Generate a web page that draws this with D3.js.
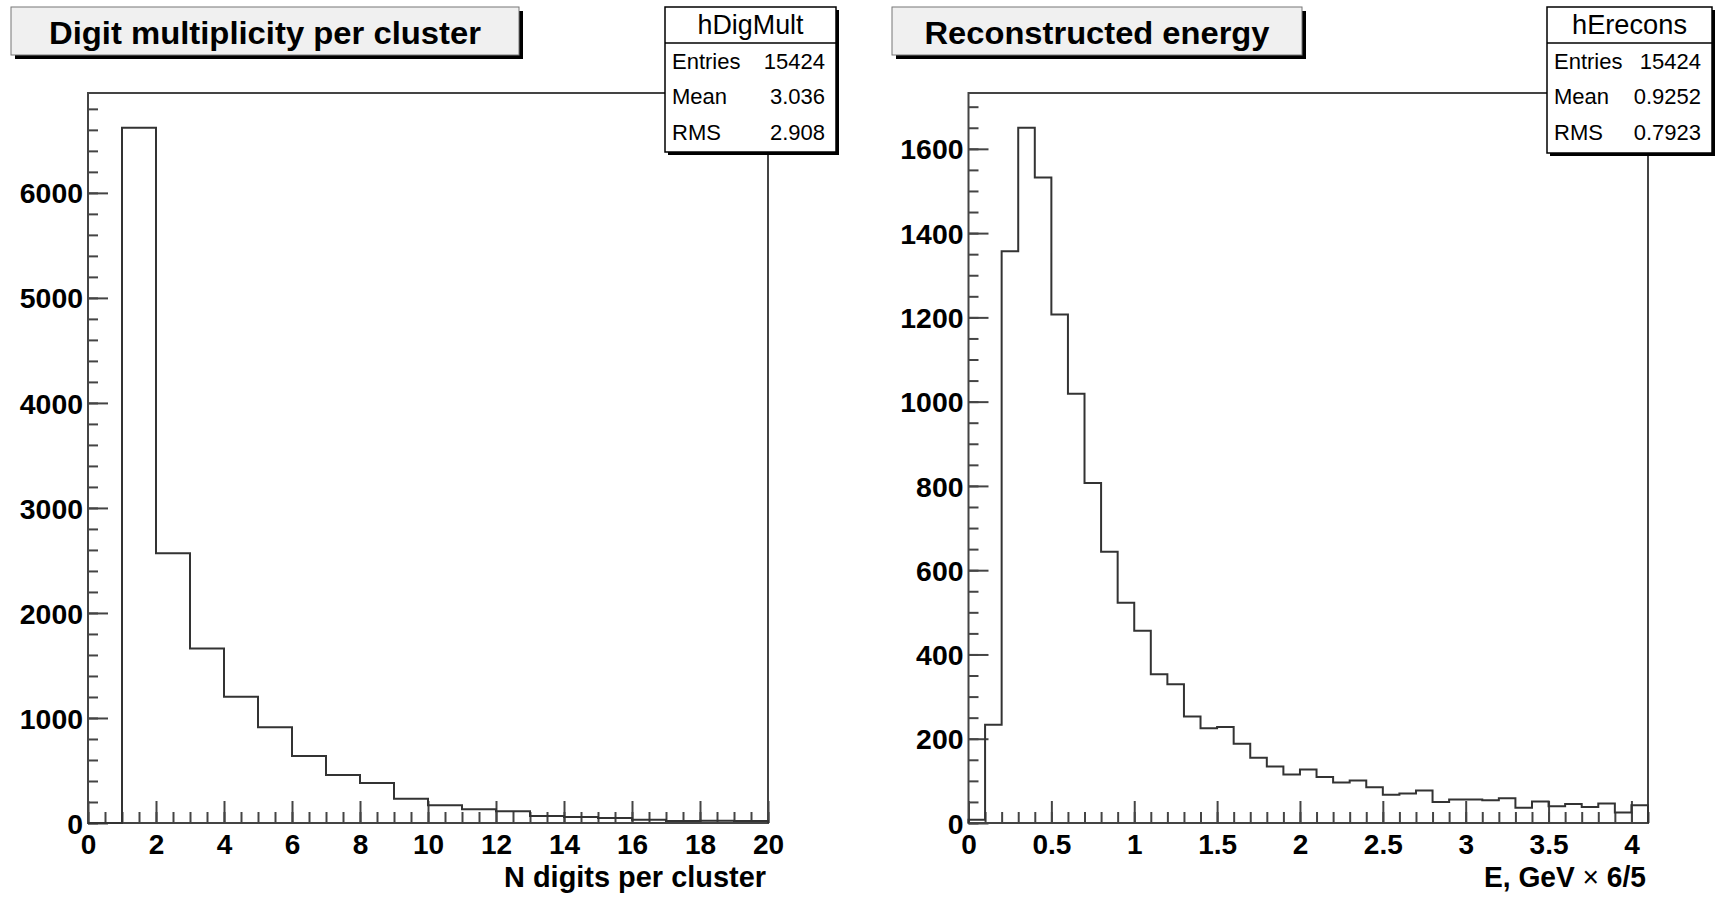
<!DOCTYPE html>
<meta charset="utf-8">
<title>Digit multiplicity / Reconstructed energy</title>
<style>
  body { margin: 0; background: #fff; }
  svg { display: block; font-family: "Liberation Sans", Arial, Helvetica, sans-serif; }
  .tick line { stroke: #444; stroke-width: 2; }
  .tick text { font-size: 28px; font-weight: bold; fill: #000; }
</style>
<body>
<script src="https://d3js.org/d3.v7.min.js"></script>
<script>

// ---- data ----
// hDigMult: 20 bins of width 1 on [0, 20]
var multLow = 0, multHigh = 20;
var multCounts = [0, 6620, 2568, 1662, 1201, 912, 639, 457, 381, 232,
                  169, 130, 111, 67, 57, 48, 32, 20, 22, 18];
var multStats = [["Entries", "15424"], ["Mean", "3.036"], ["RMS", "2.908"]];

// hErecons: 41 bins of width 0.1 on [0, 4.1]
var enLow = 0, enHigh = 4.1;
var enCounts = [8, 233, 1357, 1650, 1532, 1207, 1019, 807, 644, 523,
                456, 353, 329, 253, 225, 228, 188, 155, 134, 115,
                127, 109, 96, 101, 85, 67, 70, 77, 50, 56,
                56, 54, 59, 36, 51, 40, 45, 38, 46, 25, 42];
var enStats = [["Entries", "15424"], ["Mean", "0.9252"], ["RMS", "0.7923"]];

var multXTicks = d3.range(0, 21, 2);
var multXMinor = d3.range(0, 41).map(function (i) { return i / 2; });
var multYTicks = d3.range(0, 7000, 1000);
var multYMinor = d3.range(0, 7000, 200);

var enXTicks = d3.range(0, 9).map(function (i) { return i / 2; });
var enXMinor = d3.range(0, 42).map(function (i) { return i / 10; });
var enYTicks = d3.range(0, 1800, 200);
var enYMinor = d3.range(0, 1750, 50);

var width = 1719, height = 899;

var svg = d3.select("body").append("svg")
    .attr("width", width)
    .attr("height", height);

function drawPanel(p) {
  var g = svg.append("g");

  var x = d3.scaleLinear().domain([p.low, p.high]).range([p.left, p.right]);
  var y = d3.scaleLinear().domain([0, d3.max(p.counts) * 1.05]).range([p.bottom, p.top]);
  var bw = (p.high - p.low) / p.counts.length;

  // frame
  g.append("rect")
    .attr("x", p.left).attr("y", p.top)
    .attr("width", p.right - p.left).attr("height", p.bottom - p.top)
    .attr("fill", "none").attr("stroke", "#444").attr("stroke-width", 2);

  // minor ticks then major ticks, pointing inwards
  g.append("g")
    .attr("transform", "translate(0," + p.bottom + ")")
    .call(d3.axisBottom(x).tickValues(p.xMinor).tickSize(-11).tickFormat(""))
    .call(function (a) { a.select(".domain").remove(); });
  g.append("g")
    .attr("transform", "translate(0," + p.bottom + ")")
    .call(d3.axisBottom(x).tickValues(p.xTicks).tickSize(-22).tickPadding(11)
      .tickFormat(function (d) { return String(+d.toFixed(1)); }))
    .call(function (a) { a.select(".domain").remove(); })
    .selectAll("text").attr("font-size", 29);

  g.append("g")
    .attr("transform", "translate(" + p.left + ",0)")
    .call(d3.axisLeft(y).tickValues(p.yMinor).tickSize(-10).tickFormat(""))
    .call(function (a) { a.select(".domain").remove(); });
  g.append("g")
    .attr("transform", "translate(" + p.left + ",0)")
    .call(d3.axisLeft(y).tickValues(p.yTicks).tickSize(-20).tickPadding(5).tickFormat(d3.format("d")))
    .call(function (a) { a.select(".domain").remove(); })
    .selectAll("text").attr("dy", "0.36em").attr("font-size", 29)
      .attr("textLength", function (d) { return String(d).length * 15.8; })
      .attr("lengthAdjust", "spacingAndGlyphs");

  // histogram outline
  var pts = [[p.low, 0]];
  p.counts.forEach(function (c, i) {
    pts.push([p.low + i * bw, c]);
    pts.push([p.low + (i + 1) * bw, c]);
  });
  pts.push([p.high, 0]);
  g.append("path")
    .attr("d", d3.line().x(function (d) { return x(d[0]); }).y(function (d) { return y(d[1]); })(pts))
    .attr("fill", "none").attr("stroke", "#333").attr("stroke-width", 2);

  // axis title
  var xt = g.append("text")
    .attr("x", p.right - 2).attr("y", 887)
    .attr("text-anchor", "end")
    .attr("font-size", 29).attr("font-weight", "bold");
  p.xTitle.forEach(function (s) {
    xt.append("tspan").text(s.t).attr("font-weight", s.w || "bold");
  });
  if (p.xTitleLen) xt.attr("textLength", p.xTitleLen).attr("lengthAdjust", "spacingAndGlyphs");

  // title box with shadow
  var tb = p.titleBox;
  g.append("rect").attr("x", tb[0] + 4).attr("y", tb[1] + 4)
    .attr("width", tb[2] - tb[0]).attr("height", tb[3] - tb[1]).attr("fill", "#000");
  g.append("rect").attr("x", tb[0]).attr("y", tb[1])
    .attr("width", tb[2] - tb[0]).attr("height", tb[3] - tb[1])
    .attr("fill", "#f0f0f0").attr("stroke", "#777").attr("stroke-width", 1);
  g.append("text")
    .attr("x", (tb[0] + tb[2]) / 2).attr("y", 44)
    .attr("text-anchor", "middle")
    .attr("font-size", 32).attr("font-weight", "bold")
    .attr("textLength", p.titleLen).attr("lengthAdjust", "spacingAndGlyphs")
    .text(p.title);

  // stats box
  var sb = p.statBox;
  g.append("rect").attr("x", sb[0] + 3).attr("y", sb[1] + 3)
    .attr("width", sb[2] - sb[0]).attr("height", sb[3] - sb[1]).attr("fill", "#000");
  g.append("rect").attr("x", sb[0]).attr("y", sb[1])
    .attr("width", sb[2] - sb[0]).attr("height", sb[3] - sb[1])
    .attr("fill", "#fff").attr("stroke", "#000").attr("stroke-width", 1.5);
  g.append("line")
    .attr("x1", sb[0]).attr("x2", sb[2]).attr("y1", sb[4]).attr("y2", sb[4])
    .attr("stroke", "#000").attr("stroke-width", 1.5);
  g.append("text")
    .attr("x", (sb[0] + sb[2]) / 2).attr("y", 34)
    .attr("text-anchor", "middle").attr("font-size", 28)
    .attr("textLength", p.nameLen).attr("lengthAdjust", "spacingAndGlyphs")
    .text(p.name);
  var rowY = [69, 104, 140];
  p.stats.forEach(function (r, i) {
    g.append("text").attr("x", sb[0] + 7).attr("y", rowY[i])
      .attr("font-size", 22).text(r[0]);
    g.append("text").attr("x", sb[2] - 11).attr("y", rowY[i])
      .attr("text-anchor", "end").attr("font-size", 22).text(r[1]);
  });
}

drawPanel({
  name: "hDigMult", nameLen: 106, title: "Digit multiplicity per cluster", titleLen: 432,
  low: multLow, high: multHigh, counts: multCounts, stats: multStats,
  xTicks: multXTicks, xMinor: multXMinor, yTicks: multYTicks, yMinor: multYMinor,
  left: 88, right: 768, top: 93, bottom: 823,
  xTitle: [{ t: "N digits per cluster" }], xTitleLen: 262,
  titleBox: [11, 7, 519, 55],
  statBox: [665, 7, 836, 152, 43]
});

drawPanel({
  name: "hErecons", nameLen: 115, title: "Reconstructed energy", titleLen: 345,
  low: enLow, high: enHigh, counts: enCounts, stats: enStats,
  xTicks: enXTicks, xMinor: enXMinor, yTicks: enYTicks, yMinor: enYMinor,
  left: 968.5, right: 1648, top: 93, bottom: 823,
  xTitle: [{ t: "E, GeV " }, { t: "\u00d7", w: "normal" }, { t: " 6/5" }], xTitleLen: 162,
  titleBox: [892, 7, 1302, 55],
  statBox: [1547, 7, 1712, 153, 43]
});

</script>
</body>
